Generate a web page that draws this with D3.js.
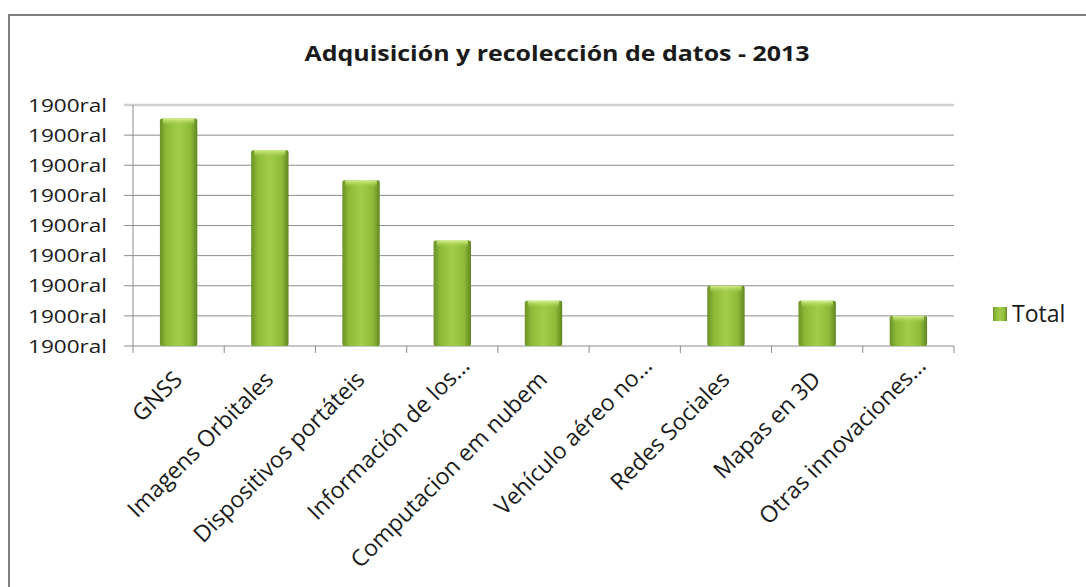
<!DOCTYPE html>
<html>
<head>
<meta charset="utf-8">
<script src="https://cdn.jsdelivr.net/npm/d3@7"></script>
<style>
	body { margin: 0; background: #fff; }
	text { font-family: "Open Sans", sans-serif; fill: #1a1a1a; }
</style>
</head>
<body>
<div id="chart"></div>
<script>
// Data
var categories = ['GNSS', 'Imagens Orbitales', 'Dispositivos portáteis', 'Información de los...',
	'Computacion em nubem', 'Vehículo aéreo no...', 'Redes Sociales', 'Mapas en 3D', 'Otras innovaciones...'];
var totals = [7.55, 6.5, 5.5, 3.5, 1.5, 0, 2, 1.5, 1];
var yTicks = [0, 1, 2, 3, 4, 5, 6, 7, 8];
var yTickLabel = '1900ral';
var seriesName = 'Total';
var title = 'Adquisición y recolección de datos - 2013';

var svg = d3.select('#chart').append('svg')
	.attr('width', 1086)
	.attr('height', 587);

// Gradient for bars
var defs = svg.append('defs');
var grad = defs.append('linearGradient').attr('id', 'barGrad')
	.attr('x1', 0).attr('x2', 1).attr('y1', 0).attr('y2', 0);
grad.append('stop').attr('offset', '0%').attr('stop-color', '#6a9126');
grad.append('stop').attr('offset', '18%').attr('stop-color', '#8dbb37');
grad.append('stop').attr('offset', '50%').attr('stop-color', '#a2cc49');
grad.append('stop').attr('offset', '82%').attr('stop-color', '#8dbb37');
grad.append('stop').attr('offset', '100%').attr('stop-color', '#618522');
var topGrad = defs.append('linearGradient').attr('id', 'topGrad')
	.attr('x1', 0).attr('x2', 0).attr('y1', 0).attr('y2', 1);
topGrad.append('stop').attr('offset', '0%').attr('stop-color', '#d6ef8c');
topGrad.append('stop').attr('offset', '100%').attr('stop-color', '#a6d04c').attr('stop-opacity', 0);

// Frame
svg.append('path')
	.attr('d', 'M9,587 V15 H1086')
	.attr('fill', 'none')
	.attr('stroke', '#7f7f7f')
	.attr('stroke-width', 2);

// Dimensions
var plot = {left: 133, right: 954, top: 105, bottom: 346};

var x = d3.scaleBand()
	.domain(categories)
	.range([plot.left, plot.right])
	.paddingInner(0.59)
	.paddingOuter(0.295);
var y = d3.scaleLinear()
	.domain([0, 8])
	.range([plot.bottom, plot.top]);

// Title
svg.append('text')
	.attr('x', 557)
	.attr('y', 61)
	.attr('text-anchor', 'middle')
	.attr('textLength', 505)
	.attr('lengthAdjust', 'spacingAndGlyphs')
	.style('font-size', '22px')
	.style('font-weight', 'bold')
	.text(title);

// Grid
svg.append('g').selectAll('line')
	.data(yTicks)
	.enter().append('line')
		.attr('x1', plot.left - 9)
		.attr('x2', plot.right)
		.attr('y1', function(d) { return y(d); })
		.attr('y2', function(d) { return y(d); })
		.attr('stroke', function(d) { return d === 8 ? '#d0d0d0' : '#8c8c8c'; })
		.attr('stroke-width', function(d) { return d === 8 ? 2.5 : 1; });

// Y axis
svg.append('line')
	.attr('x1', plot.left).attr('x2', plot.left)
	.attr('y1', plot.top).attr('y2', plot.bottom)
	.attr('stroke', '#8c8c8c');
svg.append('g').selectAll('text')
	.data(yTicks)
	.enter().append('text')
		.attr('x', 107)
		.attr('y', function(d) { return y(d); })
		.attr('dy', '0.35em')
		.attr('text-anchor', 'end')
		.attr('textLength', 79)
		.attr('lengthAdjust', 'spacingAndGlyphs')
		.style('font-size', '19px')
		.text(yTickLabel);

// X axis ticks at band boundaries
var bounds = categories.map(function(c) { return x(c) - x.step() * x.paddingInner() / 2; })
	.concat([plot.right]);
bounds[0] = plot.left;
svg.append('g').selectAll('line')
	.data(bounds)
	.enter().append('line')
		.attr('x1', function(d) { return d; })
		.attr('x2', function(d) { return d; })
		.attr('y1', plot.bottom)
		.attr('y2', plot.bottom + 7)
		.attr('stroke', '#8c8c8c');

// Bars
var bars = svg.append('g').selectAll('g')
	.data(categories.map(function(c, i) { return {cat: c, val: totals[i]}; }).filter(function(d) { return d.val > 0; }))
	.enter().append('g');
bars.append('rect')
	.attr('x', function(d) { return x(d.cat); })
	.attr('y', function(d) { return y(d.val); })
	.attr('width', x.bandwidth())
	.attr('height', function(d) { return plot.bottom - y(d.val); })
	.attr('rx', 2)
	.attr('fill', 'url(#barGrad)');
bars.append('rect')
	.attr('x', function(d) { return x(d.cat) + 3; })
	.attr('y', function(d) { return y(d.val); })
	.attr('width', x.bandwidth() - 6)
	.attr('height', 7)
	.attr('fill', 'url(#topGrad)');

// X labels (truncated labels hang a little further out, as in Excel)
svg.append('g').selectAll('text')
	.data(categories)
	.enter().append('text')
		.attr('transform', function(d) {
			return 'translate(' + (x(d) + x.bandwidth() / 2 + 5) + ',' + (plot.bottom + 35) + ') rotate(-45)';
		})
		.attr('text-anchor', 'end')
		.attr('dx', function(d) { return /\.\.\.$/.test(d) ? '0.85em' : 0; })
		.style('font-size', '23px')
		.text(function(d) { return d; });

// Legend
var lg = svg.append('g').attr('transform', 'translate(993,307)');
lg.append('rect')
	.attr('width', 14).attr('height', 14)
	.attr('fill', 'url(#barGrad)');
lg.append('text')
	.attr('x', 19)
	.attr('y', 7)
	.attr('dy', '0.35em')
	.style('font-size', '23px')
	.text(seriesName);
</script>
</body>
</html>
